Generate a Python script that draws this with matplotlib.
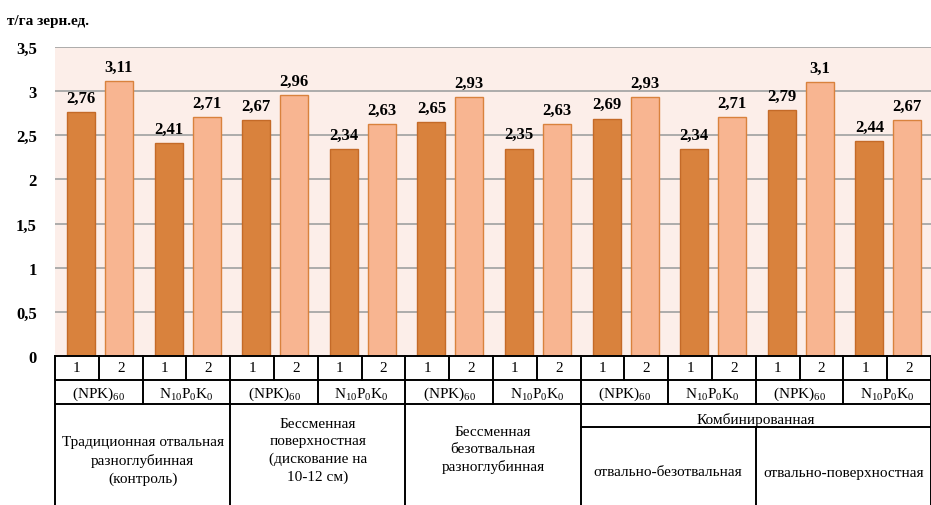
import matplotlib.pyplot as plt
import numpy as np

plt.rcParams['font.family'] = ['Liberation Serif', 'DejaVu Serif']
plt.rcParams['mathtext.fontset'] = 'custom'
plt.rcParams['mathtext.rm'] = 'Liberation Serif'
plt.rcParams['mathtext.it'] = 'Liberation Serif:italic'
plt.rcParams['mathtext.bf'] = 'Liberation Serif:bold'

# data
values1 = [2.76, 2.41, 2.67, 2.34, 2.65, 2.35, 2.69, 2.34, 2.79, 2.44]
values2 = [3.11, 2.71, 2.96, 2.63, 2.93, 2.63, 2.93, 2.71, 3.1, 2.67]
fert_labels = ['(NPK)$_{60}$', 'N$_{10}$P$_0$K$_0$'] * 5
sub_labels = ['1', '2']
tillage = ['Традиционная отвальная\nразноглубинная\n(контроль)',
           'Бессменная\nповерхностная\n(дискование на\n10-12 см)',
           'Бессменная\nбезотвальная\nразноглубинная']
combined = 'Комбинированная'
combined_sub = ['отвально-безотвальная', 'отвально-поверхностная']
yticks = [0, 0.5, 1, 1.5, 2, 2.5, 3, 3.5]

dark = '#D9823D'
light = '#F8B591'

fig = plt.figure(figsize=(9.31, 5.06), dpi=100)
ax = fig.add_axes([55 / 931, 1 - 357 / 506, 876 / 931, 309 / 506])
ax.set_facecolor('#FCEEE9')

n = len(values1)
x = np.arange(n)
b1 = ax.bar(x + 0.297, values1, width=0.32, color=dark, edgecolor='#C46A28', linewidth=1)
b2 = ax.bar(x + 0.73, values2, width=0.32, color=light, edgecolor='#D9823D', linewidth=1)

for bars, vals in [(b1, values1), (b2, values2)]:
    for rect, v in zip(bars, vals):
        ax.text(rect.get_x() + rect.get_width() / 2, v + 0.07, str(v).replace('.', ','),
                ha='center', va='bottom', fontsize=12, fontweight='bold')

ax.set_xlim(0, n)
ax.set_ylim(0, 3.5)
ax.set_yticks(yticks)
ax.set_yticklabels([str(t).replace('.0', '').replace('.', ',') for t in yticks],
                   fontsize=12, fontweight='bold')
ax.tick_params(axis='y', length=0, pad=13)
ax.set_xticks([])
for s in ax.spines.values():
    s.set_visible(False)
for t in yticks[1:]:
    ax.axhline(t, color='#A6A6A6', lw=1.3, zorder=0)
ax.set_axisbelow(True)

fig.text(7 / 931, 1 - 21 / 506, 'т/га зерн.ед.', fontsize=11, fontweight='bold', va='center')

# table under the axis
tr = ax.get_xaxis_transform()
h = 309
y1, y2, y3, yb = -24 / h, -48 / h, -71 / h, -0.6
kw = dict(color='black', lw=1.4, transform=tr, clip_on=False)

for yy in [0, y1, y2]:
    ax.plot([0, n], [yy, yy], **kw)
ax.plot([6, n], [y3, y3], **kw)
for xv in np.arange(0, n + 0.01, 0.5):
    ax.plot([xv, xv], [0, y1], **kw)
for xv in range(n + 1):
    ax.plot([xv, xv], [y1, y2], **kw)
for xv in [0, 2, 4, 6, 10]:
    ax.plot([xv, xv], [y2, yb], **kw)
ax.plot([8, 8], [y3, yb], **kw)

for i in range(n):
    for j, lab in enumerate(sub_labels):
        ax.text(i + 0.25 + 0.5 * j, (0 + y1) / 2, lab, transform=tr,
                ha='center', va='center', fontsize=11)
    ax.text(i + 0.5, (y1 + y2) / 2 - 0.005, fert_labels[i], transform=tr,
            ha='center', va='center', fontsize=11)

tillage_y = [461, 451, 450]
for k, lab in enumerate(tillage):
    ax.text(2 * k + 1, (357 - tillage_y[k]) / h, lab, transform=tr,
            ha='center', va='center', fontsize=11, linespacing=1.42)
ax.text(8, (357 - 420) / h, combined, transform=tr, ha='center', va='center', fontsize=11)
for k, lab in enumerate(combined_sub):
    ax.text(7 + 2 * k, (357 - 473) / h, lab, transform=tr,
            ha='center', va='center', fontsize=11)

fig.savefig('out.png', dpi=100)
